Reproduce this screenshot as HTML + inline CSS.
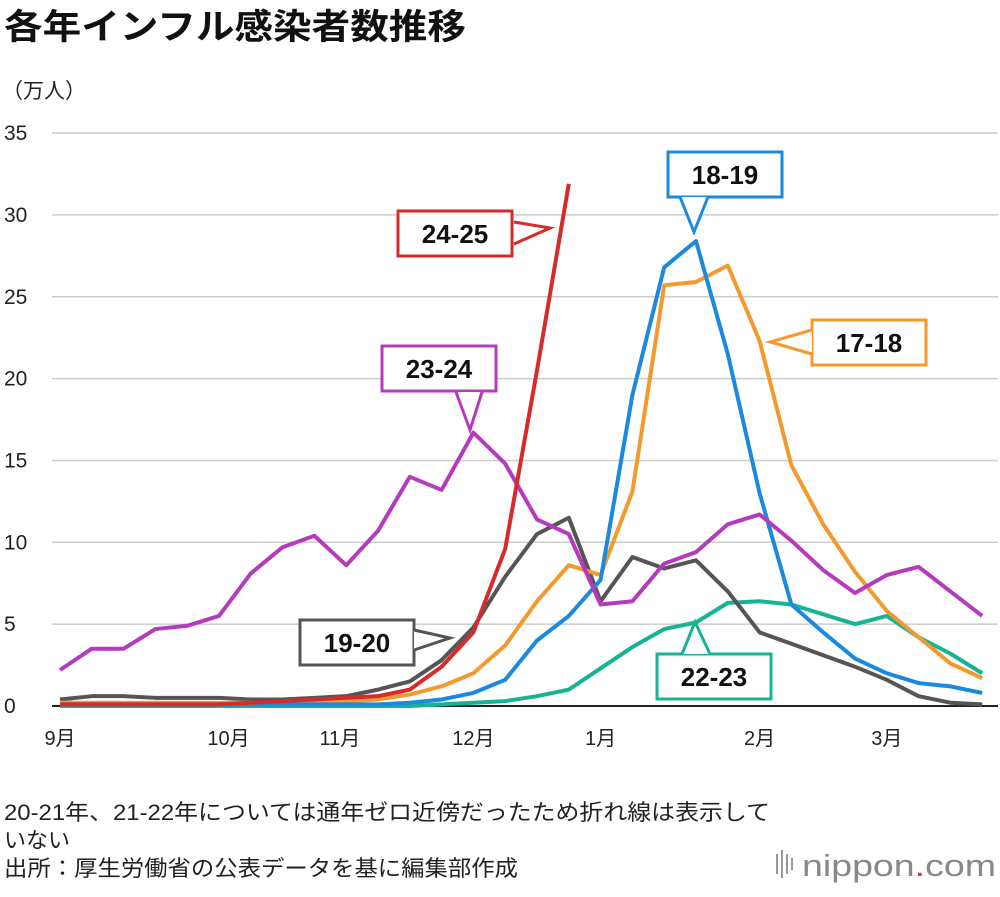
<!DOCTYPE html>
<html><head><meta charset="utf-8"><style>
body{margin:0;background:#fff;width:1000px;height:892px;overflow:hidden;font-family:"Liberation Sans","Noto Sans CJK JP",sans-serif;}
</style></head><body>
<svg width="1000" height="892" xmlns="http://www.w3.org/2000/svg" style="font-family:'Liberation Sans','Noto Sans CJK JP',sans-serif">
<text x="4" y="39" font-size="35" font-weight="bold" fill="#111" textLength="462" lengthAdjust="spacingAndGlyphs">各年インフル感染者数推移</text>
<text x="2" y="98" font-size="21" fill="#222">（万人）</text>
<g id="grid"></g><g id="lines"></g><g id="callouts"></g>
<text x="4" y="820" font-size="22" fill="#222" textLength="766" lengthAdjust="spacingAndGlyphs">20-21年、21-22年については通年ゼロ近傍だったため折れ線は表示して</text>
<text x="4" y="848" font-size="22" fill="#222">いない</text>
<text x="4" y="876" font-size="22" fill="#222" textLength="514" lengthAdjust="spacingAndGlyphs">出所：厚生労働省の公表データを基に編集部作成</text>
<g>
<rect x="776" y="854" width="2" height="20" fill="#999"/><rect x="781" y="850" width="2" height="28" fill="#999"/><rect x="786" y="854" width="2" height="20" fill="#999"/><rect x="791" y="858" width="2" height="12" fill="#999"/>
<text x="802" y="876" font-size="31" fill="#888" textLength="194" lengthAdjust="spacingAndGlyphs">nippon<tspan fill="#c33">.</tspan>com</text></g>
</svg>
<script>
const yTicks=[0,5,10,15,20,25,30,35];
const monthLabels=["9月","10月","11月","12月","1月","2月","3月"];
const monthIdx=[0,5.3,8.8,13,17,22,26];
const s2425=[0.1,0.1,0.1,0.1,0.1,0.1,0.2,0.3,0.4,0.5,0.6,1.0,2.4,4.5,9.6,20.5,31.9];
const s2324=[2.2,3.5,3.5,4.7,4.9,5.5,8.1,9.7,10.4,8.6,10.7,14,13.2,16.7,14.8,11.4,10.5,6.2,6.4,8.7,9.4,11.1,11.7,10.1,8.3,6.9,8.0,8.5,7.0,5.5];
const s1819=[0.1,0.1,0.1,0.1,0.1,0.1,0.1,0.1,0.1,0.1,0.1,0.2,0.4,0.8,1.6,4.0,5.5,7.7,19,26.8,28.4,21.5,13,6.2,4.5,2.9,2.0,1.4,1.2,0.8];
const s1718=[0.2,0.2,0.2,0.2,0.2,0.2,0.2,0.2,0.3,0.3,0.4,0.7,1.2,2.0,3.7,6.4,8.6,8.0,13.1,25.7,25.9,26.9,22.3,14.7,11.1,8.2,5.8,4.2,2.6,1.7];
const s1920=[0.4,0.6,0.6,0.5,0.5,0.5,0.4,0.4,0.5,0.6,1.0,1.5,2.8,4.8,7.9,10.5,11.5,6.4,9.1,8.4,8.9,7.0,4.5,3.8,3.1,2.4,1.6,0.6,0.2,0.1];
const s2223=[0,0,0,0,0,0,0,0,0,0,0,0,0.1,0.2,0.3,0.6,1.0,2.3,3.6,4.7,5.1,6.3,6.4,6.2,5.6,5.0,5.5,4.2,3.2,2.0];
const NS="http://www.w3.org/2000/svg";
const X=i=>60+i*31.8, Y=v=>706-v*16.37;
function mk(t,a,p){const e=document.createElementNS(NS,t);for(const k in a)e.setAttribute(k,a[k]);p.appendChild(e);return e;}
const g=document.getElementById('grid');
yTicks.forEach(v=>{const l=mk('line',{x1:52,x2:998,y1:Y(v),y2:Y(v),stroke:v?'#ccc':'#222','stroke-width':v?1.5:2},g);


const t=mk('text',{x:4,y:Y(v)+7,'font-size':21,fill:'#222'},g);t.textContent=v;

});
monthLabels.forEach((m,k)=>{const t=mk('text',{x:X(monthIdx[k]),y:745,'font-size':20,fill:'#222','text-anchor':'middle'},g);t.textContent=m;

});
const L=document.getElementById('lines');
[[s2223,'#16b394','line-22-23'],[s1920,'#555','line-19-20'],[s1718,'#f39a2e','line-17-18'],[s1819,'#1a8ae0','line-18-19'],[s2324,'#b43bbd','line-23-24'],[s2425,'#d42b2b','line-24-25']].forEach(([d,c,n])=>{
const p=mk('polyline',{points:d.map((v,i)=>X(i)+','+Y(v)).join(' '),fill:'none',stroke:c,'stroke-width':4,'stroke-linejoin':'round'},L);

});
const C=document.getElementById('callouts');
[['18-19','#1a8ae0',668,152,[[680,197],[694,232],[708,197]]],['24-25','#d42b2b',398,211,[[514,222],[550,228],[514,244]]],['23-24','#b43bbd',382,346,[[456,392],[470,430],[482,392]]],['17-18','#f39a2e',812,320,[[812,330],[770,342],[812,354]]],['19-20','#555',300,620,[[414,630],[450,638],[414,650]]],['22-23','#16b394',657,654,[[682,654],[695,622],[710,654]]]].forEach(([lab,c,x,y,pt])=>{
const gg=mk('g',{},C);


mk('rect',{x:x,y:y,width:114,height:45,fill:'#fff',stroke:c,'stroke-width':3},gg);
const pts=pt.map(p=>p.join(',')).join(' ');
mk('polygon',{points:pts,fill:'#fff',stroke:'none'},gg);
mk('polyline',{points:pts,fill:'none',stroke:c,'stroke-width':3,'stroke-linejoin':'miter'},gg);
const t=mk('text',{x:x+57,y:y+32,'font-size':26,'font-weight':'bold',fill:'#111','text-anchor':'middle'},gg);t.textContent=lab;});
</script>
</body></html>
